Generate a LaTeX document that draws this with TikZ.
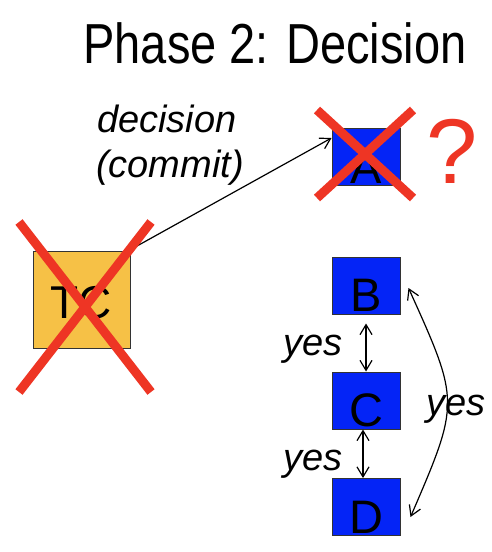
\documentclass[tikz,border=0pt]{standalone}
\usepackage{fontspec}
\setmainfont{Liberation Sans}
\usetikzlibrary{arrows.meta,calc}
\definecolor{xred}{HTML}{EE3524}
\definecolor{tcorange}{HTML}{F6C146}
\definecolor{nodeblue}{HTML}{0424F6}
\begin{document}
\begin{tikzpicture}[x=1pt,y=-1pt,
  box/.style={draw=black!80, line width=1pt, inner sep=0pt, minimum width=68pt, minimum height=57pt,
    fill=nodeblue, font=\fontsize{47}{47}\selectfont, text height=54pt, text depth=2pt},
  tcbox/.style={draw=black!80, line width=1pt, inner sep=0pt, minimum width=97pt, minimum height=97pt,
    fill=tcorange, font=\fontsize{46}{46}\selectfont, text height=40pt, text depth=3pt},
  lbl/.style={font=\fontsize{38}{38}\selectfont\itshape, inner sep=0pt, anchor=base},
  arr/.style={line width=1.2pt, >={Straight Barb[length=10pt,width=12pt]}},
  cross/.style={draw=xred, line width=9pt}]
\useasboundingbox (0,0) rectangle (492,552);
\fill[white] (0,0) rectangle (492,552);
\node[anchor=base, inner sep=0pt, font=\fontsize{47}{47}\selectfont] (title) at (275,63) {\scalebox{1}[1.2]{Phase 2: Decision}};
\node[tcbox] (tc) at (81.5,299.5) {TC};
\node[box] (a) at (366,157) {A};
\node[box] (b) at (366,285.5) {B};
\node[box] (c) at (366,400.5) {C};
\node[box] (d) at (366,507) {D};
\node[lbl] (dec1) at (167,132) {decision};
\node[lbl] (dec2) at (170,177) {(commit)};
\node[lbl] (y1) at (313,355) {yes};
\node[lbl] (y2) at (313,470) {yes};
\node[lbl] (y3) at (456,415) {yes};
\node[anchor=base, text=xred, font=\fontsize{92}{92}\selectfont, inner sep=0pt] (q) at (452,183) {?};
\draw[arr,->] ([shift={(2pt,2pt)}]tc.north east) -- ([yshift=19pt]a.west);
\draw[arr,<->] ([yshift=-9pt]b.south) -- (c.north);
\draw[arr,<->] ([xshift=-3pt]c.south) -- ([xshift=-3pt]d.north);
\draw[arr,<->] ([shift={(8pt,-2.5pt)}]b.east) .. controls (460,402) .. ([shift={(10pt,-10pt)}]d.east);
\draw[cross] (19,222) -- (151,392);
\draw[cross] (151,222) -- (19,392);
\draw[cross] (317,110) -- (413,198);
\draw[cross] (413,110) -- (317,198);
\end{tikzpicture}
\end{document}
